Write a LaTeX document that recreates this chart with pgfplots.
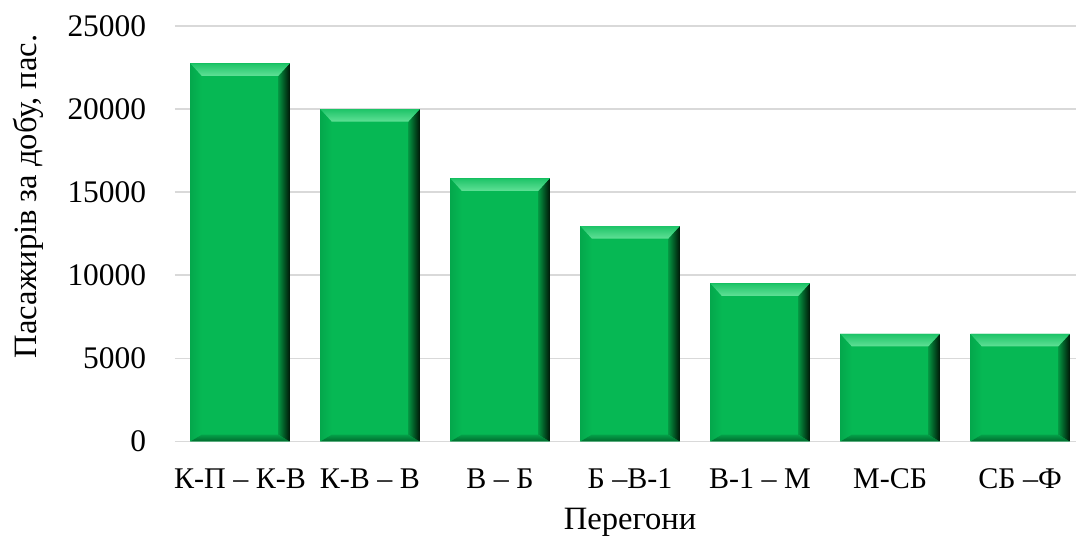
\documentclass[border=0pt]{standalone}
\usepackage{pgfplots}
\pgfplotsset{compat=1.18}
\usepackage{fontspec}
\setmainfont{Liberation Serif}

\definecolor{barmain}{RGB}{6,184,84}
\definecolor{bartopA}{RGB}{30,196,104}
\definecolor{bartopB}{RGB}{96,224,150}
\definecolor{barleftA}{RGB}{4,168,76}
\definecolor{barbotA}{RGB}{4,160,72}
\definecolor{barbotB}{RGB}{0,105,45}
\definecolor{barrightA}{RGB}{4,150,66}
\definecolor{barrightB}{RGB}{0,25,8}
\definecolor{gridgray}{RGB}{217,217,217}

% guard so the faces drawn inside a bar do not get bevelled again
\newif\ifinbevel

% bevelled bar: light top face, dark right and bottom faces
\def\bvL{4.0pt}\def\bvR{4.0pt}\def\bvT{4.4pt}\def\bvB{2.4pt}
\tikzset{
  bevel/.style={
    path picture={%
      \ifinbevel\else
      \inbeveltrue
      \coordinate (nw) at (path picture bounding box.north west);
      \coordinate (ne) at (path picture bounding box.north east);
      \coordinate (sw) at (path picture bounding box.south west);
      \coordinate (se) at (path picture bounding box.south east);
      \coordinate (inw) at ([xshift=\bvL,yshift=-\bvT]nw);
      \coordinate (ine) at ([xshift=-\bvR,yshift=-\bvT]ne);
      \coordinate (isw) at ([xshift=\bvL,yshift=\bvB]sw);
      \coordinate (ise) at ([xshift=-\bvR,yshift=\bvB]se);
      \shade[left color=barleftA, right color=barmain]
           (sw) -- (nw) -- (inw) -- (isw) -- cycle;
      \shade[top color=barbotA, bottom color=barbotB]
           (se) -- (sw) -- (isw) -- (ise) -- cycle;
      \shade[left color=barrightA, right color=barrightB]
           (ne) -- (se) -- (ise) -- (ine) -- cycle;
      \shade[top color=bartopA, bottom color=bartopB]
           (nw) -- (ne) -- (ine) -- (inw) -- cycle;
      \fi
    }
  },
  bevelbar/.style={fill=barmain, draw=none, bar shift=0pt, bevel}
}

\begin{document}
\begin{tikzpicture}[font=\fontsize{11.5}{13}\selectfont]
\begin{axis}[
  at={(0,0)}, anchor=south west,
  scale only axis,
  width=321.4pt, height=146.7pt,
  ymin=0, ymax=25000,
  ytick={0,5000,10000,15000,20000,25000},
  scaled y ticks=false,
  xmin=-0.5, xmax=6.5,
  xtick={0,1,2,3,4,5,6},
  xticklabels={{К-П – К-В},{К-В – В},{В – Б},{Б –В-1},{В-1 – М},{М-СБ},{СБ –Ф}},
  ymajorgrids,
  grid style={draw=gridgray, line width=0.6pt},
  axis line style={draw=none},
  major tick length=0pt,
  /pgf/number format/1000 sep={},
  /pgf/number format/assume math mode=true,
  yticklabel style={anchor=east, inner sep=0pt, xshift=-10pt,
                    font=\fontsize{11.1}{13}\selectfont},
  xticklabel style={anchor=base, inner sep=0pt, yshift=-16.5pt,
                    font=\fontsize{10.6}{13}\selectfont},
  xlabel={Перегони},
  ylabel={Пасажирів за добу, пас.},
  every axis x label/.style={at={(axis description cs:0.5,-0.213)}, anchor=base},
  every axis y label/.style={at={(axis description cs:-0.1527,0.59)}, rotate=90, anchor=base},
  ybar, bar width=35pt,
]
% one plot per section, so each bar gets its own bevel
\addplot[bevelbar] coordinates {(0,22750)};
\addplot[bevelbar] coordinates {(1,20000)};
\addplot[bevelbar] coordinates {(2,15830)};
\addplot[bevelbar] coordinates {(3,12960)};
\addplot[bevelbar] coordinates {(4,9510)};
\addplot[bevelbar] coordinates {(5,6470)};
\addplot[bevelbar] coordinates {(6,6470)};
\end{axis}
\pgfresetboundingbox
\path[use as bounding box] (-61.8pt,-33.7pt) rectangle (318.2pt,155.9pt);
\end{tikzpicture}
\end{document}
